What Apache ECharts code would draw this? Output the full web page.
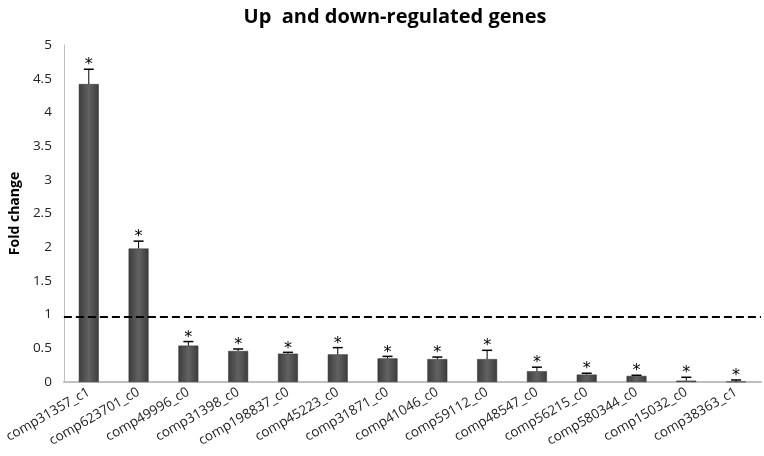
<!DOCTYPE html>
<html><head><meta charset="utf-8">
<script src="https://cdn.jsdelivr.net/npm/echarts@6/dist/echarts.min.js"></script>
<style>html,body{margin:0;padding:0;background:#fff}#c{width:764px;height:456px}</style>
</head><body><div id="c"></div>
<script>
const categories = ["comp31357_c1","comp623701_c0","comp49996_c0","comp31398_c0","comp198837_c0","comp45223_c0","comp31871_c0","comp41046_c0","comp59112_c0","comp48547_c0","comp56215_c0","comp580344_c0","comp15032_c0","comp38363_c1"];
const foldChange = [4.42,1.98,0.54,0.46,0.42,0.41,0.35,0.34,0.34,0.16,0.11,0.09,0.02,0.005];
const errorUpper = [4.64,2.09,0.60,0.49,0.44,0.51,0.38,0.37,0.47,0.22,0.13,0.10,0.07,0.03];
const thresholdLine = 0.97;
const yTicks = [0,0.5,1,1.5,2,2.5,3,3.5,4,4.5,5];

const chart = echarts.init(document.getElementById('c'));
chart.setOption({
  animation:false,
  title:{text:'Up  and down-regulated genes',left:390,textAlign:'center',top:2,
    textStyle:{fontFamily:'Open Sans',fontWeight:'bold',fontSize:20,color:'#000'}},
  grid:{left:53,right:3,top:45,bottom:74},
  xAxis:{type:'category',data:categories,
    axisLine:{lineStyle:{color:'#bfbfbf',width:2}},
    axisTick:{show:false},
    axisLabel:{rotate:30,interval:0,fontFamily:'Open Sans',fontSize:13.5,color:'#222',margin:9}},
  yAxis:{type:'value',min:0,max:5,interval:0.5,
    name:'Fold change',nameLocation:'middle',nameGap:39,
    nameTextStyle:{fontFamily:'Open Sans',fontWeight:'bold',fontSize:14,color:'#000'},
    axisLine:{show:true,lineStyle:{color:'#bfbfbf'}},
    axisTick:{show:false},splitLine:{show:false},
    axisLabel:{fontFamily:'Open Sans',fontSize:13.5,color:'#222',margin:12,
      formatter:v=>yTicks.includes(v)?String(v):''}},
  series:[
    {type:'bar',data:foldChange,barWidth:'40%',
      itemStyle:{color:new echarts.graphic.LinearGradient(0,0,1,0,[
        {offset:0,color:'#3c3c3c'},{offset:0.5,color:'#626262'},{offset:1,color:'#3c3c3c'}]),
        borderColor:'#2e2e2e',borderWidth:0.5},
      markLine:{silent:true,symbol:'none',label:{show:false},
        lineStyle:{color:'#000',type:[8,4],width:2},
        data:[{yAxis:thresholdLine}]}},
    {type:'custom',z:5,
      data:foldChange.map((v,i)=>[i,v,errorUpper[i]]),
      renderItem:(params,api)=>{
        const lo=api.coord([api.value(0),api.value(1)]);
        const hi=api.coord([api.value(0),api.value(2)]);
        const x=lo[0];
        return {type:'group',children:[
          {type:'line',shape:{x1:x,y1:lo[1],x2:x,y2:hi[1]},style:{stroke:'#000',lineWidth:1}},
          {type:'line',shape:{x1:x-5,y1:hi[1],x2:x+5,y2:hi[1]},style:{stroke:'#000',lineWidth:1.5}},
          {type:'text',x:x,y:hi[1]+4,style:{text:'*',fontSize:16,fontFamily:'DejaVu Sans',fill:'#000',align:'center',verticalAlign:'bottom'}}
        ]};
      }}
  ]
});
</script></body></html>
